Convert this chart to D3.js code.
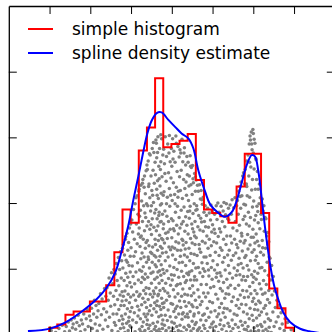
<!DOCTYPE html>
<html>
<head>
<meta charset="utf-8">
<script src="https://cdnjs.cloudflare.com/ajax/libs/d3/7.8.5/d3.min.js"></script>
<style>
  body { margin: 0; background: #fff; }
  svg { display: block; }
</style>
</head>
<body>
<svg id="canvas" width="332" height="332"></svg>
<script>
// Histogram bin edges and normalized heights
let histEdges = [0.99, 1.19, 1.39, 1.59, 1.79, 1.99, 2.19, 2.39, 2.59, 2.79, 2.99, 3.19, 3.39, 3.59, 3.79, 3.99,
                 4.19, 4.39, 4.59, 4.79, 4.99, 5.19, 5.39, 5.59, 5.79, 5.99, 6.19, 6.39, 6.59, 6.79, 6.99]
let histDensity = [0.01, 0.015, 0.03, 0.035, 0.035, 0.05, 0.05, 0.075, 0.125, 0.19, 0.17, 0.28, 0.315, 0.39, 0.285,
                   0.29, 0.295, 0.305, 0.235, 0.19, 0.185, 0.18, 0.17, 0.225, 0.275, 0.275, 0.185, 0.07, 0.04, 0.01]

// Spline density estimate, sampled along x
let splineX = [0.47, 1.01, 1.38, 1.75, 2.16, 2.40, 2.61, 2.77, 2.93, 3.06, 3.18, 3.30, 3.40, 3.51, 3.63, 3.75, 3.91,
               4.08, 4.24, 4.41, 4.53, 4.65, 4.82, 4.94, 5.14, 5.31, 5.47, 5.59, 5.72, 5.84, 5.96, 6.04, 6.12, 6.21,
               6.27, 6.35, 6.43, 6.52, 6.62, 6.74, 6.90, 7.15, 7.37, 7.64]
let splineY = [0.005, 0.0088, 0.018, 0.033, 0.054, 0.071, 0.094, 0.127, 0.165, 0.206, 0.241, 0.278, 0.306, 0.326,
               0.337, 0.338, 0.327, 0.316, 0.306, 0.298, 0.283, 0.250, 0.217, 0.198, 0.185, 0.179, 0.186, 0.203, 0.232,
               0.258, 0.273, 0.271, 0.250, 0.205, 0.172, 0.133, 0.100, 0.072, 0.052, 0.033, 0.019, 0.0086, 0.0048, 0.002]

// Sample points (x, scattered height)
let samplePoints = [
  [1.04,.006],[1.15,.003],
  [1.23,.009],[1.31,.014],[1.37,.004],
  [1.41,.012],[1.46,.019],[1.49,.005],[1.53,.022],[1.56,.010],[1.58,.016],
  [1.61,.025],[1.64,.008],[1.67,.018],[1.70,.029],[1.73,.013],[1.76,.004],[1.78,.022],
  [1.81,.016],[1.84,.031],[1.87,.007],[1.90,.024],[1.93,.038],[1.95,.012],[1.98,.028],
  [2.01,.021],[2.03,.040],[2.05,.009],[2.08,.031],[2.10,.052],[2.12,.016],[2.14,.044],[2.16,.026],[2.17,.005],[2.19,.036],
  [2.21,.047],[2.23,.014],[2.25,.062],[2.27,.030],[2.29,.054],[2.31,.008],[2.33,.039],[2.35,.070],[2.37,.022],[2.38,.058],
  [2.40,.034],[2.41,.071],[2.43,.012],[2.44,.052],[2.46,.086],[2.47,.026],[2.49,.063],[2.50,.043],[2.52,.094],[2.53,.006],
  [2.55,.077],[2.56,.031],[2.57,.058],[2.58,.099],[2.59,.018],
  [2.60,.045],[2.61,.092],[2.62,.014],[2.63,.067],[2.64,.108],[2.65,.031],[2.66,.082],[2.67,.053],[2.68,.004],[2.69,.117],
  [2.70,.038],[2.70,.074],[2.71,.021],[2.72,.099],[2.73,.060],[2.74,.126],[2.74,.009],[2.75,.044],[2.76,.086],[2.77,.028],
  [2.77,.112],[2.78,.065],[2.79,.016],[2.79,.131],[2.78,.051],
  [2.80,.023],[2.80,.101],[2.81,.058],[2.81,.137],[2.82,.010],[2.83,.082],[2.83,.044],[2.84,.121],[2.85,.066],[2.85,.003],
  [2.86,.145],[2.86,.031],[2.87,.093],[2.88,.052],[2.88,.113],[2.89,.017],[2.90,.074],[2.90,.154],[2.91,.039],[2.92,.128],
  [2.92,.087],[2.93,.006],[2.93,.061],[2.94,.140],[2.95,.026],[2.95,.105],[2.96,.048],[2.96,.162],[2.97,.079],[2.97,.013],
  [2.98,.119],[2.98,.035],[2.98,.095],[2.99,.057],[2.99,.168],[2.87,.149],[2.94,.020],[2.91,.110],
  [3.00,.011],[3.00,.132],[3.01,.072],[3.02,.174],[3.02,.041],[3.03,.104],[3.04,.156],[3.04,.022],[3.05,.088],[3.06,.060],
  [3.06,.190],[3.07,.119],[3.08,.033],[3.08,.145],[3.09,.077],[3.10,.004],[3.10,.199],[3.11,.052],[3.11,.126],[3.12,.095],
  [3.13,.168],[3.13,.018],[3.14,.065],[3.15,.211],[3.15,.138],[3.16,.043],[3.16,.109],[3.17,.183],[3.17,.028],[3.18,.083],
  [3.18,.153],[3.19,.058],[3.19,.218],[3.12,.208],
  [3.20,.037],[3.20,.162],[3.20,.221],[3.21,.098],[3.21,.008],[3.22,.134],[3.22,.061],[3.23,.189],[3.23,.024],[3.24,.115],
  [3.24,.227],[3.25,.079],[3.25,.150],[3.26,.045],[3.26,.203],[3.27,.012],[3.27,.124],[3.28,.087],[3.28,.172],[3.29,.055],
  [3.29,.236],[3.30,.103],[3.30,.019],[3.30,.145],[3.31,.067],[3.31,.196],[3.32,.031],[3.32,.118],[3.33,.241],[3.33,.084],
  [3.33,.158],[3.34,.006],[3.34,.049],[3.35,.214],[3.35,.131],[3.35,.092],[3.36,.027],[3.36,.178],[3.37,.071],[3.37,.249],
  [3.37,.140],[3.38,.041],[3.38,.110],[3.38,.199],[3.39,.015],[3.39,.165],[3.39,.258],[3.21,.180],[3.24,.004],[3.26,.096],
  [3.28,.230],[3.31,.003],[3.32,.224],[3.34,.185],[3.36,.062],[3.23,.148],
  [3.40,.022],[3.40,.143],[3.40,.251],[3.41,.087],[3.41,.196],[3.42,.053],[3.42,.264],[3.42,.118],[3.43,.009],[3.43,.172],
  [3.44,.070],[3.44,.229],[3.44,.135],[3.45,.036],[3.45,.101],[3.46,.208],[3.46,.160],[3.46,.014],[3.47,.061],[3.47,.273],
  [3.48,.125],[3.48,.188],[3.48,.044],[3.49,.093],[3.49,.241],[3.50,.004],[3.50,.152],[3.50,.078],[3.51,.219],[3.51,.029],
  [3.52,.110],[3.52,.283],[3.52,.176],[3.53,.057],[3.53,.133],[3.54,.250],[3.54,.017],[3.54,.095],[3.55,.201],[3.55,.066],
  [3.56,.163],[3.56,.039],[3.56,.277],[3.57,.120],[3.57,.230],[3.57,.008],[3.58,.084],[3.58,.185],[3.58,.048],[3.59,.145],
  [3.59,.262],[3.59,.106],[3.41,.031],[3.43,.225],[3.45,.275],[3.47,.003],[3.49,.167],[3.51,.123],[3.53,.212],[3.55,.292],
  [3.57,.062],[3.43,.114],[3.50,.196],
  [3.60,.012],[3.60,.137],[3.60,.243],[3.61,.071],[3.61,.190],[3.61,.296],[3.62,.034],[3.62,.158],[3.62,.103],[3.63,.221],
  [3.63,.005],[3.63,.269],[3.64,.087],[3.64,.176],[3.64,.051],[3.65,.128],[3.65,.234],[3.65,.019],[3.66,.301],[3.66,.095],
  [3.66,.165],[3.67,.061],[3.67,.207],[3.67,.143],[3.68,.027],[3.68,.256],[3.68,.112],[3.69,.078],[3.69,.186],[3.69,.008],
  [3.70,.151],[3.70,.283],[3.70,.043],[3.71,.119],[3.71,.226],[3.71,.067],[3.72,.003],[3.72,.197],[3.72,.134],[3.73,.090],
  [3.73,.263],[3.73,.038],[3.74,.172],[3.74,.106],[3.74,.215],[3.75,.055],[3.75,.298],[3.75,.146],[3.76,.016],[3.76,.082],
  [3.76,.240],[3.77,.124],[3.77,.183],[3.77,.047],[3.78,.273],[3.78,.099],[3.78,.022],[3.79,.161],[3.79,.212],[3.79,.070],
  [3.61,.118],[3.63,.044],[3.65,.277],[3.67,.003],[3.69,.237],[3.71,.171],[3.73,.304],[3.75,.199],[3.77,.009],[3.64,.212],
  [3.68,.181],[3.70,.097],[3.72,.251],[3.74,.029],[3.76,.131],[3.78,.144],[3.62,.291],[3.66,.059],
  [3.80,.041],[3.80,.168],[3.80,.282],[3.81,.093],[3.81,.217],[3.82,.014],[3.82,.139],[3.82,.260],[3.83,.066],[3.83,.188],
  [3.84,.112],[3.84,.029],[3.84,.301],[3.85,.154],[3.85,.078],[3.86,.233],[3.86,.006],[3.86,.125],[3.87,.052],[3.87,.271],
  [3.88,.180],[3.88,.097],[3.89,.021],[3.89,.209],[3.89,.146],[3.90,.063],[3.90,.290],[3.91,.118],[3.91,.037],[3.92,.246],
  [3.92,.172],[3.92,.085],[3.93,.010],[3.93,.133],[3.94,.222],[3.94,.058],[3.94,.303],[3.95,.104],[3.95,.195],[3.96,.027],
  [3.96,.160],[3.96,.263],[3.97,.075],[3.97,.129],[3.98,.004],[3.98,.238],[3.98,.047],[3.99,.176],[3.99,.091],[3.99,.283],
  [3.81,.048],[3.83,.245],[3.85,.003],[3.87,.199],[3.91,.156],[3.93,.276],[3.97,.212],
  [4.00,.019],[4.00,.147],[4.00,.256],[4.01,.083],[4.01,.204],[4.02,.046],[4.02,.298],[4.02,.121],[4.03,.009],[4.03,.173],
  [4.04,.068],[4.04,.231],[4.05,.102],[4.05,.035],[4.05,.279],[4.06,.158],[4.06,.090],[4.07,.213],[4.07,.003],[4.07,.131],
  [4.08,.057],[4.08,.262],[4.09,.186],[4.09,.114],[4.10,.026],[4.10,.302],[4.10,.141],[4.11,.074],[4.11,.224],[4.12,.012],
  [4.12,.166],[4.13,.099],[4.13,.248],[4.13,.043],[4.14,.195],[4.14,.128],[4.15,.062],[4.15,.286],[4.16,.153],[4.16,.006],
  [4.16,.218],[4.17,.087],[4.17,.031],[4.18,.270],[4.18,.178],[4.18,.109],[4.19,.051],[4.19,.240],[4.01,.133],[4.03,.267],
  [4.06,.017],[4.08,.199],[4.11,.291],[4.14,.076],[4.17,.139],[4.04,.161],[4.09,.039],[4.15,.209],
  [4.20,.014],[4.20,.162],[4.20,.281],[4.21,.077],[4.21,.219],[4.22,.041],[4.22,.128],[4.23,.250],[4.23,.004],[4.23,.189],
  [4.24,.096],[4.24,.058],[4.25,.297],[4.25,.145],[4.25,.023],[4.26,.207],[4.26,.110],[4.27,.069],[4.27,.263],[4.28,.172],
  [4.28,.033],[4.28,.136],[4.29,.088],[4.29,.236],[4.30,.011],[4.30,.194],[4.31,.121],[4.31,.050],[4.31,.284],[4.32,.157],
  [4.32,.222],[4.33,.079],[4.33,.027],[4.34,.179],[4.34,.258],[4.34,.105],[4.35,.043],[4.35,.140],[4.36,.212],[4.36,.007],
  [4.36,.082],[4.37,.271],[4.37,.166],[4.38,.118],[4.38,.031],[4.38,.243],[4.39,.060],[4.39,.187],[4.21,.119],[4.22,.276],
  [4.24,.168],[4.26,.031],[4.27,.143],[4.29,.002],[4.30,.276],[4.32,.061],[4.33,.130],[4.35,.232],[4.37,.093],
  [4.40,.026],[4.40,.153],[4.40,.262],[4.41,.091],[4.41,.204],[4.42,.048],[4.42,.131],[4.43,.012],[4.43,.241],[4.43,.177],
  [4.44,.070],[4.44,.112],[4.45,.272],[4.45,.035],[4.45,.195],[4.46,.146],[4.46,.083],[4.47,.005],[4.47,.228],[4.47,.123],
  [4.48,.059],[4.48,.254],[4.49,.168],[4.49,.097],[4.50,.020],[4.50,.213],[4.50,.139],[4.51,.074],[4.51,.257],[4.52,.042],
  [4.52,.184],[4.53,.108],[4.53,.009],[4.53,.231],[4.54,.156],[4.54,.063],[4.55,.199],[4.55,.122],[4.55,.031],[4.56,.245],
  [4.56,.088],[4.57,.172],[4.57,.015],[4.57,.137],[4.58,.052],[4.58,.218],[4.59,.101],[4.59,.189],[4.41,.014],[4.42,.226],
  [4.44,.188],[4.46,.256],[4.48,.002],[4.49,.045],[4.51,.161],[4.52,.237],[4.54,.028],[4.56,.150],[4.58,.240],[4.43,.095],
  [4.55,.083],
  [4.60,.018],[4.60,.147],[4.60,.235],[4.61,.083],[4.61,.196],[4.62,.041],[4.62,.120],[4.63,.227],[4.63,.006],[4.64,.164],
  [4.64,.068],[4.65,.102],[4.65,.218],[4.66,.033],[4.66,.181],[4.67,.137],[4.67,.057],[4.68,.010],[4.68,.228],[4.69,.094],
  [4.69,.159],[4.70,.045],[4.70,.206],[4.71,.125],[4.71,.022],[4.72,.076],[4.72,.219],[4.73,.171],[4.73,.004],[4.74,.109],
  [4.74,.050],[4.75,.198],[4.75,.142],[4.76,.029],[4.76,.088],[4.77,.209],[4.77,.157],[4.78,.063],[4.78,.014],[4.79,.118],
  [4.79,.186],[4.62,.190],[4.65,.008],[4.68,.130],[4.71,.177],[4.74,.205],[4.77,.100],
  [4.80,.031],[4.80,.172],[4.81,.096],[4.81,.009],[4.82,.139],[4.82,.196],[4.83,.057],[4.84,.118],[4.84,.021],[4.85,.181],
  [4.85,.076],[4.86,.150],[4.87,.040],[4.87,.108],[4.88,.192],[4.88,.004],[4.89,.131],[4.89,.063],[4.90,.163],[4.91,.026],
  [4.91,.089],[4.92,.185],[4.92,.145],[4.93,.050],[4.94,.011],[4.94,.120],[4.95,.174],[4.95,.071],[4.96,.034],[4.96,.197],
  [4.97,.102],[4.98,.156],[4.98,.016],[4.99,.084],[4.99,.188],[4.83,.164],[4.90,.098],[4.97,.135],
  [5.00,.048],[5.00,.167],[5.01,.112],[5.02,.019],[5.02,.190],[5.03,.073],[5.03,.141],[5.04,.005],[5.05,.098],[5.05,.183],
  [5.06,.036],[5.06,.154],[5.07,.125],[5.08,.061],[5.08,.012],[5.09,.196],[5.09,.087],[5.10,.139],[5.11,.027],[5.11,.175],
  [5.12,.106],[5.13,.054],[5.13,.200],[5.14,.149],[5.14,.003],[5.15,.081],[5.16,.120],[5.16,.186],[5.17,.041],[5.17,.161],
  [5.18,.094],[5.18,.015],[5.19,.132],[5.19,.070],[5.04,.160],[5.11,.093],[5.15,.031],
  [5.20,.022],[5.20,.156],[5.21,.089],[5.21,.195],[5.22,.047],[5.23,.128],[5.23,.008],[5.24,.172],[5.24,.066],[5.25,.110],
  [5.26,.033],[5.26,.188],[5.27,.145],[5.27,.079],[5.28,.013],[5.28,.201],[5.29,.117],[5.30,.055],[5.30,.164],[5.31,.098],
  [5.31,.026],[5.32,.182],[5.33,.137],[5.33,.062],[5.34,.004],[5.34,.199],[5.35,.084],[5.35,.150],[5.36,.039],[5.37,.121],
  [5.37,.176],[5.38,.017],[5.38,.071],[5.39,.192],[5.39,.105],[5.29,.040],
  [5.40,.061],[5.40,.174],[5.41,.012],[5.41,.128],[5.42,.093],[5.43,.036],[5.43,.197],[5.44,.150],[5.44,.075],[5.45,.004],
  [5.46,.113],[5.46,.183],[5.47,.050],[5.47,.139],[5.48,.022],[5.48,.205],[5.49,.086],[5.50,.162],[5.50,.009],[5.51,.120],
  [5.51,.057],[5.52,.193],[5.53,.101],[5.53,.031],[5.54,.145],[5.55,.070],[5.55,.208],[5.56,.015],[5.56,.172],[5.57,.124],
  [5.58,.044],[5.58,.090],[5.59,.196],[5.59,.137],
  [5.60,.029],[5.60,.158],[5.61,.097],[5.61,.204],[5.62,.053],[5.62,.132],[5.63,.011],[5.63,.183],[5.64,.075],[5.64,.218],
  [5.65,.116],[5.65,.040],[5.66,.166],[5.66,.003],[5.67,.091],[5.67,.225],[5.68,.142],[5.68,.060],[5.69,.192],[5.69,.020],
  [5.70,.108],[5.70,.232],[5.71,.046],[5.71,.154],[5.72,.083],[5.72,.211],[5.73,.014],[5.73,.127],[5.74,.241],[5.74,.067],
  [5.75,.175],[5.75,.101],[5.76,.034],[5.76,.246],[5.77,.139],[5.77,.198],[5.78,.056],[5.78,.008],[5.79,.117],[5.79,.229],
  [5.63,.106],[5.68,.210],[5.72,.150],[5.76,.088],[5.79,.180],
  [5.80,.018],[5.80,.143],[5.80,.251],[5.81,.082],[5.81,.197],[5.82,.045],[5.82,.120],[5.83,.229],[5.83,.007],[5.83,.168],
  [5.84,.066],[5.84,.264],[5.85,.105],[5.85,.031],[5.85,.211],[5.86,.152],[5.86,.088],[5.87,.273],[5.87,.012],[5.87,.130],
  [5.88,.057],[5.88,.186],[5.89,.241],[5.89,.098],[5.90,.024],[5.90,.165],[5.90,.290],[5.91,.073],[5.91,.209],[5.92,.136],
  [5.92,.040],[5.92,.302],[5.93,.112],[5.93,.178],[5.94,.005],[5.94,.255],[5.94,.062],[5.95,.148],[5.95,.308],[5.96,.091],
  [5.96,.220],[5.97,.029],[5.97,.281],[5.97,.125],[5.98,.194],[5.98,.050],[5.99,.312],[5.99,.160],[5.99,.079],[5.84,.225],
  [5.88,.003],[5.91,.262],[5.93,.296],[5.96,.290],[5.98,.236],
  [6.00,.021],[6.00,.148],[6.00,.276],[6.00,.306],[6.01,.087],[6.01,.203],[6.01,.055],[6.02,.129],[6.02,.010],[6.02,.252],
  [6.03,.174],[6.03,.096],[6.03,.038],[6.04,.291],[6.04,.139],[6.04,.067],[6.05,.221],[6.05,.004],[6.05,.113],[6.06,.181],
  [6.06,.046],[6.06,.268],[6.07,.084],[6.07,.153],[6.08,.025],[6.08,.236],[6.08,.119],[6.09,.062],[6.09,.195],[6.10,.013],
  [6.10,.142],[6.10,.248],[6.11,.093],[6.11,.037],[6.12,.170],[6.12,.221],[6.12,.108],[6.13,.051],[6.13,.006],[6.14,.135],
  [6.14,.199],[6.15,.077],[6.15,.029],[6.15,.229],[6.16,.161],[6.16,.101],[6.17,.048],[6.17,.208],[6.18,.125],[6.18,.015],
  [6.19,.183],[6.19,.069],[6.02,.297],[6.07,.266],[6.11,.187],
  [6.20,.034],[6.20,.175],[6.21,.102],[6.21,.012],[6.22,.206],[6.22,.143],[6.23,.061],[6.24,.188],[6.24,.005],[6.25,.121],
  [6.25,.082],[6.26,.040],[6.26,.196],[6.27,.157],[6.28,.019],[6.28,.097],[6.29,.178],[6.29,.063],[6.30,.131],[6.31,.008],
  [6.31,.176],[6.32,.076],[6.33,.150],[6.33,.031],[6.34,.110],[6.35,.155],[6.35,.053],[6.36,.004],[6.36,.137],[6.37,.090],
  [6.37,.024],[6.38,.141],[6.38,.067],[6.39,.118],[6.39,.011],[6.23,.132],[6.30,.044],
  [6.40,.048],[6.41,.116],[6.42,.021],[6.43,.083],[6.44,.003],[6.45,.105],[6.46,.060],[6.48,.034],[6.49,.088],[6.51,.012],
  [6.52,.066],[6.54,.041],[6.56,.019],[6.58,.052],
  [6.61,.027],[6.63,.044],[6.65,.009],[6.68,.033],[6.71,.016],[6.73,.038],[6.76,.006],[6.78,.024],
  [6.84,.018],[6.93,.007]
]

let legendLabels = ['simple histogram', 'spline density estimate']
let xTicks = [1, 2, 3, 4, 5, 6, 7]
let yTicks = [0.1, 0.2, 0.3, 0.4]

let canvas = d3.select('#canvas')

// axes box runs a little past the window on the right and bottom
let x = d3.scaleLinear().domain([0, 8]).range([8.8, 334.8])
let y = d3.scaleLinear().domain([0, 0.5]).range([334.4, 6])

let drawPoints = () => {
    canvas.append('g')
        .selectAll('circle')
        .data(samplePoints)
        .enter()
        .append('circle')
        .attr('cx', d => x(d[0]))
        .attr('cy', d => y(d[1]))
        .attr('r', 1.75)
        .attr('fill', '#808080')
}

let drawHistogram = () => {
    // step outline: down to zero at both ends
    let steps = [[histEdges[0], 0]]
    histDensity.forEach((v, i) => {
        steps.push([histEdges[i], v])
        steps.push([histEdges[i + 1], v])
    })
    steps.push([histEdges[histEdges.length - 1], 0])

    canvas.append('path')
        .datum(steps)
        .attr('d', d3.line().x(d => x(d[0])).y(d => y(d[1])))
        .attr('fill', 'none')
        .attr('stroke', '#ff0000')
        .attr('stroke-width', 2)
        .attr('stroke-linejoin', 'miter')
}

let drawSpline = () => {
    canvas.append('path')
        .datum(d3.zip(splineX, splineY))
        .attr('d', d3.line().x(d => x(d[0])).y(d => y(d[1])).curve(d3.curveCatmullRom.alpha(0.5)))
        .attr('fill', 'none')
        .attr('stroke', '#0000ff')
        .attr('stroke-width', 2)
}

let drawAxes = () => {
    let axes = [
        [d3.axisBottom(x).tickValues(xTicks), `translate(0,${y(0)})`],
        [d3.axisTop(x).tickValues(xTicks), `translate(0,${y(0.5)})`],
        [d3.axisLeft(y).tickValues(yTicks), `translate(${x(0)},0)`],
        [d3.axisRight(y).tickValues(yTicks), `translate(${x(8)},0)`]
    ]
    axes.forEach(([axis, t]) => {
        let g = canvas.append('g')
            .attr('transform', t)
            .call(axis.tickSize(-8).tickSizeOuter(0).tickFormat(''))
        g.select('.domain').attr('stroke', '#000').attr('stroke-width', 1.3)
        g.selectAll('.tick line').attr('stroke', '#000').attr('stroke-width', 1)
    })
}

let drawLegend = () => {
    let colors = ['#ff0000', '#0000ff']
    let rows = canvas.append('g')
        .selectAll('g')
        .data(legendLabels)
        .enter()
        .append('g')
        .attr('transform', (d, i) => `translate(0,${29 + i * 24})`)

    rows.append('line')
        .attr('x1', 28).attr('x2', 53)
        .attr('stroke', (d, i) => colors[i])
        .attr('stroke-width', 2)

    rows.append('text')
        .attr('x', 72)
        .attr('y', 6.3)
        .attr('font-family', 'DejaVu Sans')
        .attr('font-size', '17px')
        .attr('fill', '#000')
        .text(d => d)
}

drawPoints()
drawHistogram()
drawSpline()
drawAxes()
drawLegend()
</script>
</body>
</html>
